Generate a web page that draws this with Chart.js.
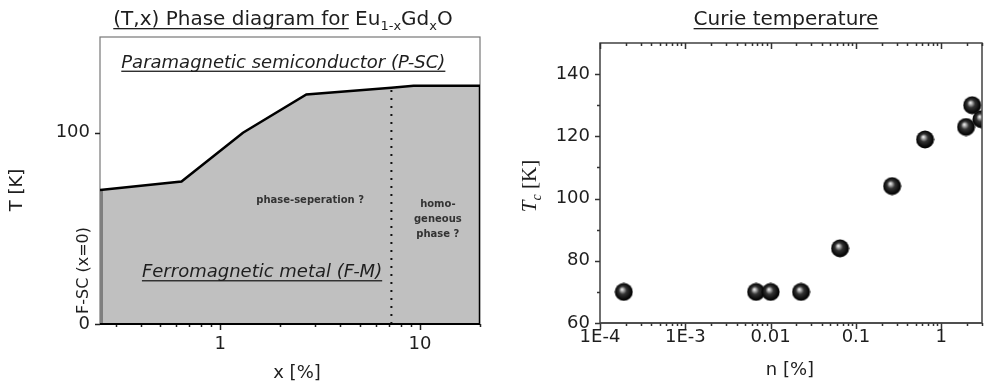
<!DOCTYPE html>
<html>
<head>
<meta charset="utf-8">
<script src="https://cdn.jsdelivr.net/npm/chart.js@4.4.1/dist/chart.umd.min.js"></script>
<style>
  html, body { margin: 0; padding: 0; background: #fff; }
  #wrap { position: relative; width: 985px; height: 388px; }
  #phase { position: absolute; left: 0; top: 0; }
  #curie { position: absolute; left: 500px; top: 0; }
</style>
</head>
<body>
<div id="wrap">
  <canvas id="phase" width="500" height="388"></canvas>
  <canvas id="curie" width="485" height="388"></canvas>
</div>
<script>
/* phase diagram (left) */
const boundaryX = [0.25, 0.64, 1.3, 2.7, 7.2, 9.3, 20, 20];
const boundaryT = [70, 74.5, 100, 120, 123.5, 124.5, 124.5, 0];
const fscX = [0.25, 0.25];
const fscT = [0, 70];
const sepX = [7.2, 7.2];
const sepT = [0, 123.5];
const phaseXTicks = [0.3, 0.4, 0.5, 0.6, 0.7, 0.8, 0.9, 1, 2, 3, 4, 5, 6, 7, 8, 9, 10, 20];
const phaseXLabels = [1, 10];
const phaseYLabels = [0, 100];

/* curie temperature (right) */
const dopingN = [0.00019, 0.00675, 0.01, 0.0227, 0.065, 0.265, 0.645, 1.95, 2.95, 2.3];
const curieT = [70, 70, 70, 70, 84, 104, 119, 123, 125.5, 130];
const curieXMajor = [1e-4, 1e-3, 0.01, 0.1, 1];
const curieXLabels = ["1E-4", "1E-3", "0.01", "0.1", "1"];
const curieYTicks = [60, 70, 80, 90, 100, 110, 120, 130, 140];
const curieYLabels = [60, 80, 100, 120, 140];

const SANS = "'DejaVu Sans', sans-serif";
const SERIF = "'Liberation Serif', 'Times New Roman', serif";
const INK = "#1e1e1e";

const toPoints = (xs, ys) => xs.map((x, i) => ({ x, y: ys[i] }));

// draws a run of text pieces (for sub-scripts / underlines), centred on x
function drawRich(ctx, parts, x, y) {
  let w = 0;
  parts.forEach((p) => {
    ctx.font = p.font;
    p.w = ctx.measureText(p.t).width;
    w += p.w;
  });
  let cx = x - w / 2;
  ctx.textAlign = "left";
  ctx.textBaseline = "alphabetic";
  parts.forEach((p) => {
    ctx.font = p.font;
    ctx.fillText(p.t, cx, y + (p.dy || 0));
    if (p.ul) {
      const uw = ctx.measureText(p.t.trimEnd()).width;
      ctx.fillRect(cx, y + 3, uw, 1.3);
    }
    cx += p.w;
  });
}

function sphere(d) {
  const c = document.createElement("canvas");
  c.width = c.height = d;
  const g = c.getContext("2d");
  const r = d / 2;
  const grad = g.createRadialGradient(r * 0.8, r * 0.72, 0, r, r, r);
  grad.addColorStop(0, "#ffffff");
  grad.addColorStop(0.16, "#b5b5b5");
  grad.addColorStop(0.42, "#333");
  grad.addColorStop(0.8, "#0a0a0a");
  grad.addColorStop(1, "#000");
  g.fillStyle = grad;
  g.beginPath();
  g.arc(r, r, r - 0.5, 0, Math.PI * 2);
  g.fill();
  return c;
}

// frame under the data, tick marks on top, both from the scales' own ticks
const frameTicks = {
  id: "frameTicks",
  beforeDatasetsDraw(chart, args, opts) {
    const { ctx, chartArea: { left, right, top, bottom } } = chart;
    ctx.save();
    ctx.strokeStyle = opts.frameColor;
    ctx.lineWidth = 1.2;
    ctx.strokeRect(left, top, right - left, bottom - top);
    ctx.restore();
  },
  afterDraw(chart, args, opts) {
    const {
      ctx,
      chartArea: { left, right, top, bottom },
      scales: { x, y },
    } = chart;
    ctx.save();
    if (opts.frameOnTop) {
      ctx.strokeStyle = opts.frameColor;
      ctx.lineWidth = 1.2;
      ctx.strokeRect(left, top, right - left, bottom - top);
    }
    ctx.strokeStyle = opts.tickColor;
    ctx.lineWidth = 1.5;
    ctx.beginPath();
    x.ticks.forEach((t) => {
      const px = Math.round(x.getPixelForValue(t.value)) + 0.5;
      const len = t.major ? 6 : 3;
      ctx.moveTo(px, bottom);
      ctx.lineTo(px, bottom + len);
      if (opts.mirrorTop) {
        ctx.moveTo(px, top);
        ctx.lineTo(px, top + len);
      }
    });
    y.ticks.forEach((t) => {
      const py = Math.round(y.getPixelForValue(t.value)) + 0.5;
      const len = t.major ? 5 : 3;
      ctx.moveTo(left - len, py);
      ctx.lineTo(left, py);
    });
    ctx.stroke();

    ctx.strokeStyle = opts.bottomColor;
    ctx.lineWidth = opts.bottomWidth;
    ctx.beginPath();
    ctx.moveTo(left, bottom);
    ctx.lineTo(right, bottom);
    ctx.stroke();
    ctx.restore();
  },
};

const phaseText = {
  id: "phaseText",
  afterDraw(chart) {
    const {
      ctx,
      chartArea: { left, bottom },
      scales: { x, y },
    } = chart;
    ctx.save();
    ctx.fillStyle = INK;
    drawRich(ctx, [
      { t: "(T,x) Phase diagram for ", font: `20px ${SANS}`, ul: true },
      { t: "Eu", font: `20px ${SANS}` },
      { t: "1-x", font: `13px ${SANS}`, dy: 5 },
      { t: "Gd", font: `20px ${SANS}` },
      { t: "x", font: `13px ${SANS}`, dy: 5 },
      { t: "O", font: `20px ${SANS}` },
    ], 283, 25);

    drawRich(ctx, [{ t: "Paramagnetic semiconductor (P-SC)", font: `italic 18px ${SANS}`, ul: true }],
      x.getPixelForValue(2.07), y.getPixelForValue(134));
    drawRich(ctx, [{ t: "Ferromagnetic metal (F-M)", font: `italic 18px ${SANS}`, ul: true }],
      x.getPixelForValue(1.62), y.getPixelForValue(24.5));

    ctx.fillStyle = "#333";
    ctx.textBaseline = "middle";
    ctx.textAlign = "center";
    ctx.font = `bold 10px ${SANS}`;
    ctx.fillText("phase-seperation ?", x.getPixelForValue(2.82), y.getPixelForValue(64.6));
    const hx = x.getPixelForValue(12.3);
    ctx.fillText("homo-", hx, y.getPixelForValue(62.5));
    ctx.fillText("geneous", hx, y.getPixelForValue(54.7));
    ctx.fillText("phase ?", hx, y.getPixelForValue(46.9));

    ctx.fillStyle = INK;
    ctx.font = `16px ${SANS}`;
    ctx.save();
    ctx.translate(left - 16, y.getPixelForValue(28));
    ctx.rotate(-Math.PI / 2);
    ctx.fillText("F-SC (x=0)", 0, 0);
    ctx.restore();

    ctx.font = `18px ${SANS}`;
    ctx.save();
    ctx.translate(17, 190);
    ctx.rotate(-Math.PI / 2);
    ctx.fillText("T [K]", 0, 0);
    ctx.restore();
    ctx.fillText("x [%]", 297, bottom + 49);
    ctx.restore();
  },
};

const curieText = {
  id: "curieText",
  afterDraw(chart) {
    const { ctx } = chart;
    ctx.save();
    ctx.fillStyle = INK;
    drawRich(ctx, [{ t: "Curie temperature", font: `20px ${SANS}`, ul: true }], 286, 25);
    ctx.textAlign = "center";
    ctx.textBaseline = "middle";
    ctx.font = `18px ${SANS}`;
    ctx.fillText("n [%]", 290, 370);
    ctx.save();
    ctx.translate(36, 186);
    ctx.rotate(-Math.PI / 2);
    drawRich(ctx, [
      { t: "T", font: `italic 21px ${SERIF}` },
      { t: "c", font: `italic 14px ${SERIF}`, dy: 5 },
      { t: " [K]", font: `21px ${SERIF}` },
    ], 0, 0);
    ctx.restore();
    ctx.restore();
  },
};

const tickFont = { family: SANS, size: 18 };
const noSidePad = (s) => { s.paddingLeft = 0; s.paddingRight = 0; };

new Chart(document.getElementById("phase"), {
  type: "line",
  data: {
    datasets: [
      {
        data: toPoints(boundaryX, boundaryT),
        borderColor: "#000",
        borderWidth: 2.5,
        backgroundColor: "#c0c0c0",
        fill: "origin",
        pointRadius: 0,
      },
      {
        data: toPoints(fscX, fscT),
        borderColor: "#7f7f7f",
        borderWidth: 6,
        pointRadius: 0,
        fill: false,
      },
      {
        data: toPoints(sepX, sepT),
        borderColor: "#111",
        borderWidth: 2,
        borderDash: [2, 6],
        pointRadius: 0,
        fill: false,
      },
    ],
  },
  options: {
    responsive: false,
    animation: false,
    layout: { autoPadding: false, padding: { top: 37, right: 20, left: 0, bottom: 0 } },
    plugins: {
      legend: { display: false },
      tooltip: { enabled: false },
      filler: { drawTime: "beforeDatasetsDraw" },
      frameTicks: { frameColor: "#777", tickColor: "#222", mirrorTop: false, bottomColor: "#000", bottomWidth: 2 },
    },
    scales: {
      x: {
        type: "logarithmic",
        min: 0.25,
        max: 20,
        grid: { display: false, drawTicks: false },
        border: { display: false },
        afterFit: (s) => { s.height = 64; noSidePad(s); },
        afterBuildTicks: (s) => {
          s.ticks = phaseXTicks.map((v) => ({ value: v, major: phaseXLabels.includes(v) }));
        },
        ticks: {
          autoSkip: false,
          maxRotation: 0,
          padding: 10,
          color: INK,
          font: tickFont,
          callback: (v) => (phaseXLabels.includes(v) ? String(v) : ""),
        },
      },
      y: {
        min: 0,
        max: 150,
        grid: { display: false, drawTicks: false },
        border: { display: false },
        afterFit: (s) => { s.width = 100; },
        afterBuildTicks: (s) => {
          s.ticks = phaseYLabels.map((v) => ({ value: v, major: true }));
        },
        ticks: { padding: 10, color: INK, font: tickFont },
      },
    },
  },
  plugins: [frameTicks, phaseText],
});

const curieXTicks = [];
curieXMajor.forEach((d) => {
  for (let m = 1; m <= 9; m++) if (d * m <= 3) curieXTicks.push({ value: d * m, major: m === 1 });
});

new Chart(document.getElementById("curie"), {
  type: "scatter",
  data: {
    datasets: [
      {
        data: toPoints(dopingN, curieT),
        pointStyle: sphere(19),
        pointRadius: 9.5,
        clip: 0,
      },
    ],
  },
  options: {
    responsive: false,
    animation: false,
    layout: { autoPadding: false, padding: { top: 43, right: 3, left: 0, bottom: 0 } },
    plugins: {
      legend: { display: false },
      tooltip: { enabled: false },
      frameTicks: { frameColor: "#555", tickColor: "#333", mirrorTop: true, frameOnTop: true, bottomColor: "#444", bottomWidth: 1.5 },
    },
    scales: {
      x: {
        type: "logarithmic",
        min: 1e-4,
        max: 3,
        grid: { display: false, drawTicks: false },
        border: { display: false },
        afterFit: (s) => { s.height = 65; noSidePad(s); },
        afterBuildTicks: (s) => { s.ticks = curieXTicks.map((t) => ({ ...t })); },
        ticks: {
          autoSkip: false,
          maxRotation: 0,
          padding: 4,
          color: INK,
          font: tickFont,
          callback: (v) => {
            const i = curieXMajor.indexOf(v);
            return i < 0 ? "" : curieXLabels[i];
          },
        },
      },
      y: {
        min: 60,
        max: 150,
        grid: { display: false, drawTicks: false },
        border: { display: false },
        afterFit: (s) => { s.width = 100; },
        afterBuildTicks: (s) => {
          s.ticks = curieYTicks.map((v) => ({ value: v, major: curieYLabels.includes(v) }));
        },
        ticks: {
          padding: 10,
          color: INK,
          font: tickFont,
          callback: (v) => (curieYLabels.includes(v) ? String(v) : ""),
        },
      },
    },
  },
  plugins: [frameTicks, curieText],
});
</script>
</body>
</html>
